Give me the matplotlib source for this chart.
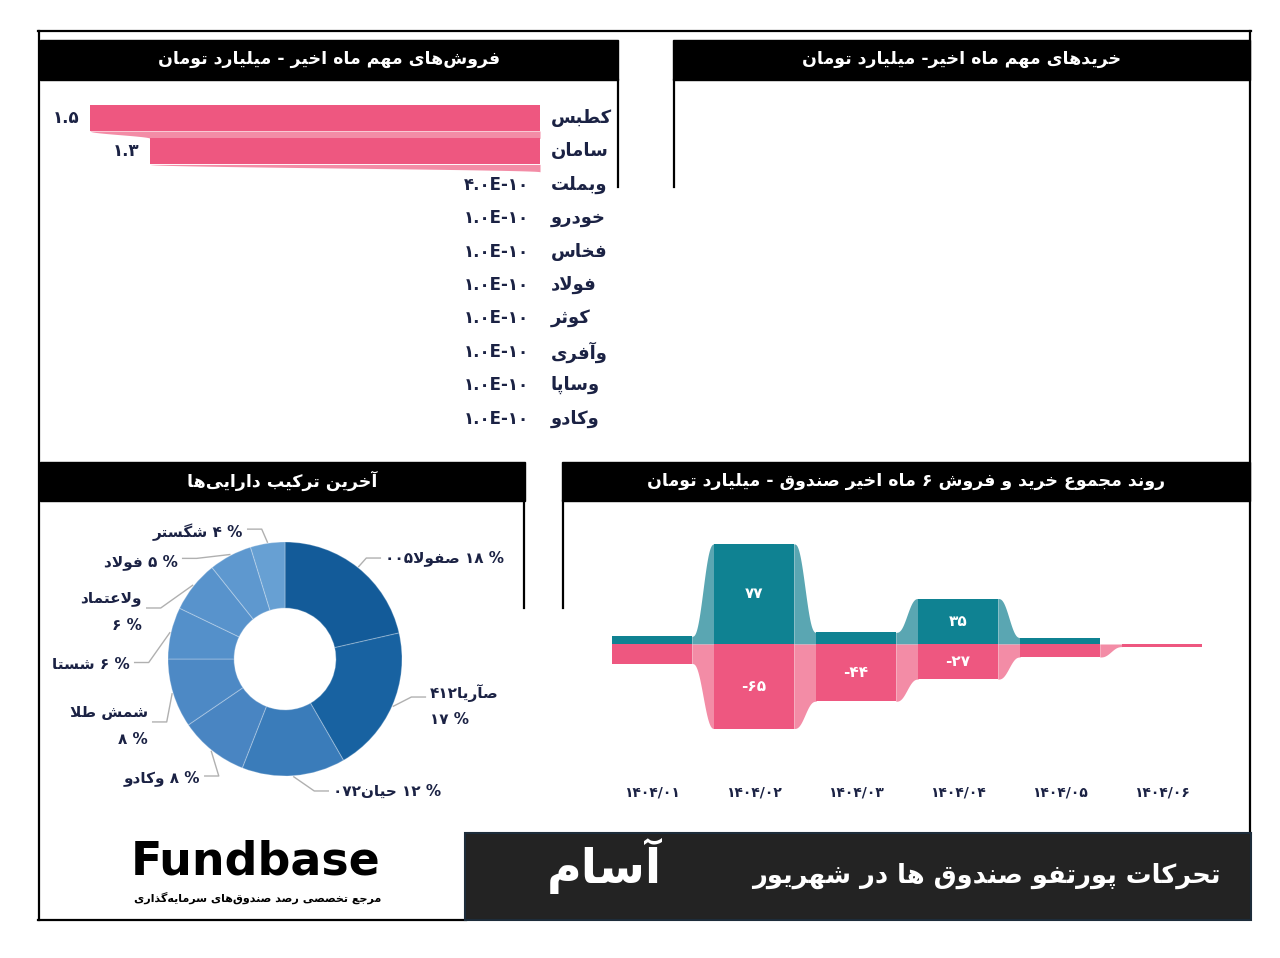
import matplotlib
matplotlib.use("Agg")
import matplotlib.pyplot as plt
from matplotlib.patches import Rectangle
import numpy as np

# ------------------------------------------------------------------ data
sell_names = ["کطبس", "سامان", "وبملت", "خودرو", "فخاس", "فولاد", "کوثر", "وآفری", "وساپا", "وکادو"]
sell_values = [1.5, 1.3, 4.0e-10, 1.0e-10, 1.0e-10, 1.0e-10, 1.0e-10, 1.0e-10, 1.0e-10, 1.0e-10]

asset_names = ["صفولا۰۰۵", "صآریا۴۱۲", "حیان۰۷۲", "وکادو", "شمش طلا", "شستا", "ولاعتماد", "فولاد", "شگستر"]
asset_pcts = [18, 17, 12, 8, 8, 6, 6, 5, 4]

months = ["۱۴۰۴/۰۱", "۱۴۰۴/۰۲", "۱۴۰۴/۰۳", "۱۴۰۴/۰۴", "۱۴۰۴/۰۵", "۱۴۰۴/۰۶"]
buy_totals = [6, 77, 9, 35, 5, 0]
sell_totals = [-15, -65, -44, -27, -10, -2]

title_sell = "فروش‌های مهم ماه اخیر - میلیارد تومان"
title_buy = "خریدهای مهم ماه اخیر- میلیارد تومان"
title_assets = "آخرین ترکیب دارایی‌ها"
title_trend = "روند مجموع خرید و فروش ۶ ماه اخیر صندوق - میلیارد تومان"
main_title = "تحرکات پورتفو صندوق ها در شهریور"
fund_name = "آسام"
logo_text = "Fundbase"
logo_sub = "مرجع تخصصی رصد صندوق‌های سرمایه‌گذاری"

# ------------------------------------------------------------------ arabic shaping helpers
def _four(base):
    return tuple(chr(base + k) for k in range(4))

FORMS = {
    'ا': ('\uFE8D', '\uFE8E'), 'آ': ('\uFE81', '\uFE82'), 'د': ('\uFEA9', '\uFEAA'),
    'ذ': ('\uFEAB', '\uFEAC'), 'ر': ('\uFEAD', '\uFEAE'), 'ز': ('\uFEAF', '\uFEB0'),
    'ژ': ('\uFB8A', '\uFB8B'), 'و': ('\uFEED', '\uFEEE'),
    'ب': _four(0xFE8F), 'پ': _four(0xFB56), 'ت': _four(0xFE95), 'ث': _four(0xFE99),
    'ج': _four(0xFE9D), 'چ': _four(0xFB7A), 'ح': _four(0xFEA1), 'خ': _four(0xFEA5),
    'س': _four(0xFEB1), 'ش': _four(0xFEB5), 'ص': _four(0xFEB9), 'ض': _four(0xFEBD),
    'ط': _four(0xFEC1), 'ظ': _four(0xFEC5), 'ع': _four(0xFEC9), 'غ': _four(0xFECD),
    'ف': _four(0xFED1), 'ق': _four(0xFED5), 'ک': _four(0xFB8E), 'گ': _four(0xFB92),
    'ل': _four(0xFEDD), 'م': _four(0xFEE1), 'ن': _four(0xFEE5), 'ه': _four(0xFEE9),
    'ی': _four(0xFBFC),
}


def _dual(c):
    return c in FORMS and len(FORMS[c]) == 4


def shape(text):
    ch = list(text)
    n = len(ch)
    res = []
    i = 0
    while i < n:
        c = ch[i]
        if c == '\u200c':
            i += 1
            continue
        if c not in FORMS:
            res.append(c)
            i += 1
            continue
        prev_j = i > 0 and _dual(ch[i - 1])
        if c == 'ل' and i + 1 < n and ch[i + 1] in ('ا', 'آ'):
            lig = ('\uFEFB', '\uFEFC') if ch[i + 1] == 'ا' else ('\uFEF5', '\uFEF6')
            res.append(lig[1] if prev_j else lig[0])
            i += 2
            continue
        next_j = i + 1 < n and ch[i + 1] in FORMS
        f = FORMS[c]
        if len(f) == 4:
            if prev_j and next_j:
                g = f[3]
            elif prev_j:
                g = f[1]
            elif next_j:
                g = f[2]
            else:
                g = f[0]
        else:
            g = f[1] if prev_j else f[0]
        res.append(g)
        i += 1
    return ''.join(res)


def _cls(c):
    o = ord(c)
    if 0x06F0 <= o <= 0x06F9 or (c.isascii() and c.isalnum()):
        return 'L'
    if (0x0600 <= o <= 0x06FF) or 0xFB50 <= o <= 0xFDFF or 0xFE70 <= o <= 0xFEFF:
        return 'R'
    return 'N'


def fa(text):
    s = shape(text)
    n = len(s)
    base = [_cls(c) for c in s]
    for k, c in enumerate(s):
        if base[k] == 'N' and c in '.,/-' and k + 1 < n and base[k + 1] == 'L' and (
                (k > 0 and base[k - 1] == 'L') or c == '-'):
            base[k] = 'L'
    cls = list(base)
    for k in range(n):
        if base[k] == 'N':
            p = next((base[j] for j in range(k - 1, -1, -1) if base[j] != 'N'), 'R')
            q = next((base[j] for j in range(k + 1, n) if base[j] != 'N'), 'R')
            cls[k] = 'L' if (p == 'L' and q == 'L') else 'R'
    runs = []
    for c, t in zip(s, cls):
        if runs and runs[-1][0] == t:
            runs[-1][1].append(c)
        else:
            runs.append([t, [c]])
    out = []
    for t, cs in reversed(runs):
        out.append(''.join(reversed(cs)) if t == 'R' else ''.join(cs))
    return ''.join(out)


FA_DIG = str.maketrans("0123456789", "۰۱۲۳۴۵۶۷۸۹")


def fnum(v):
    s = f"{v:.1E}" if abs(v) < 1e-3 else f"{v:g}"
    return s.translate(FA_DIG)


# ------------------------------------------------------------------ figure
W, H = 1280, 958
plt.rcParams['font.family'] = ['DejaVu Sans']
plt.rcParams['font.weight'] = 'bold'
fig = plt.figure(figsize=(W / 100, H / 100), dpi=100)
fig.patch.set_facecolor('white')

NAVY = '#1b2244'
PINK = '#ee5780'
PINK_L = '#f38ca6'
TEAL = '#0f8292'
TEAL_L = '#5aa6b2'


def px_axes(x0, y0, x1, y1, **kw):
    return fig.add_axes([x0 / W, 1 - y1 / H, (x1 - x0) / W, (y1 - y0) / H], **kw)


bg = px_axes(0, 0, W, H)
bg.set_xlim(0, W)
bg.set_ylim(H, 0)
bg.axis('off')

LW = 1.6
# outer frame
bg.plot([38, 1251], [31, 31], color='black', lw=LW)
bg.plot([39, 39], [31, 920], color='black', lw=LW)
bg.plot([38, 466], [920, 920], color='black', lw=LW)
bg.plot([1250, 1250], [31, 833], color='black', lw=LW)

# headers
headers = [((40, 40, 618, 80), title_sell), ((673, 40, 1250, 80), title_buy),
           ((40, 462, 525, 501), title_assets), ((562, 462, 1250, 501), title_trend)]
for (x0, y0, x1, y1), t in headers:
    bg.add_patch(Rectangle((x0, y0), x1 - x0, y1 - y0, color='black', zorder=2))
    bg.text((x0 + x1) / 2, (y0 + y1) / 2 - 1, fa(t), color='white', fontsize=12.5,
            ha='center', va='center', zorder=3)
# panel side lines
bg.plot([617.5, 617.5], [80, 187], color='black', lw=LW)
bg.plot([673.5, 673.5], [80, 187], color='black', lw=LW)
bg.plot([524, 524], [501, 608], color='black', lw=LW)
bg.plot([563, 563], [501, 608], color='black', lw=LW)

# title box
bg.add_patch(Rectangle((465, 833), 786, 87, facecolor='#232323', edgecolor='#1d2c3a', lw=1.5, zorder=2))
bg.text(1221, 876, fa(main_title), color='white', fontsize=18.5, ha='right', va='center', zorder=3)
bg.text(604, 866, fa(fund_name), color='white', fontsize=34, ha='center', va='center', zorder=3)

# logo
bg.text(256, 862, logo_text, color='black', fontsize=33, ha='center', va='center',
        fontweight='bold', family='DejaVu Sans')
bg.text(258, 898, fa(logo_sub), color='black', fontsize=8, ha='center', va='center')

# ------------------------------------------------------------------ sells bar chart
axb = px_axes(40, 95, 618, 435)
axb.axis('off')
n = len(sell_values)
ypos = np.arange(n)
axb.set_xlim(500 / 300, -78 / 300)
axb.set_ylim((435 - 118) / 33.4, (95 - 118) / 33.4)
bh = 0.78
axb.barh(ypos, sell_values, height=bh, color=PINK, zorder=2)
for i in range(n - 1):
    yy = np.linspace(i + bh / 2, i + 1 - bh / 2, 30)
    t = (yy - yy[0]) / (yy[-1] - yy[0])
    st = t * t * (3 - 2 * t)
    xx = sell_values[i] + (sell_values[i + 1] - sell_values[i]) * st
    axb.fill_betweenx(yy, 0, xx, color=PINK_L, lw=0, zorder=1)
for i, (name, v) in enumerate(zip(sell_names, sell_values)):
    axb.annotate(fa(name), xy=(0, i), xytext=(7.5, 0), textcoords='offset points',
                 ha='left', va='center', fontsize=13, color=NAVY)
    axb.annotate(fnum(v), xy=(v, i), xytext=(-8, 0), textcoords='offset points',
                 ha='right', va='center', fontsize=12, color=NAVY)

# ------------------------------------------------------------------ donut
R = 117.0
cx, cy = 285, 659
axd = px_axes(40, 505, 525, 830)
blues = ['#135b99', '#1862a1', '#3a7cba', '#4985c2', '#4d89c5', '#5490ca', '#5893cc', '#5e98cf', '#67a0d3']
wedges, _ = axd.pie(asset_pcts, colors=blues, startangle=90, counterclock=False, radius=1.0,
                    wedgeprops=dict(width=0.565, edgecolor=(1, 1, 1, 0.25), linewidth=0.8),
                    frame=True)
axd.set_xlim((40 - cx) / R, (525 - cx) / R)
axd.set_ylim(-(830 - cy) / R, (cy - 505) / R)
axd.set_aspect('auto')
axd.axis('off')

# label layout: (text x, leader y, side, lines y)
layout = [
    (0.855, 0.863, 1, [0.863]),
    (1.24, -0.325, 1, [-0.29, -0.52]),
    (0.41, -1.128, 1, [-1.128]),
    (-0.726, -1.0, -1, [-1.017]),
    (-1.171, -0.538, -1, [-0.46, -0.69]),
    (-1.325, -0.03, -1, [-0.05]),
    (-1.222, 0.436, -1, [0.521, 0.29]),
    (-0.915, 0.86, -1, [0.829]),
    (-0.359, 1.11, -1, [1.085]),
]
LFS = 11
for w, name, pct, (tx, ly, side, lys) in zip(wedges, asset_names, asset_pcts, layout):
    ang = np.deg2rad((w.theta1 + w.theta2) / 2)
    p0 = (1.01 * np.cos(ang), 1.01 * np.sin(ang))
    ex = tx - side * 0.16
    axd.plot([p0[0], ex, tx - side * 0.04], [p0[1], ly, ly], color='#b0b0b0', lw=1)
    pct_txt = fa(f"% {pct}".translate(FA_DIG))
    ha = 'left' if side > 0 else 'right'
    if len(lys) == 1:
        axd.text(tx, lys[0], fa(f"% {str(pct).translate(FA_DIG)} {name}"), ha=ha, va='center',
                 fontsize=LFS, color=NAVY)
    else:
        axd.text(tx, lys[0], fa(name), ha=ha, va='center', fontsize=LFS, color=NAVY)
        axd.text(tx, lys[1], pct_txt, ha=ha, va='center', fontsize=LFS, color=NAVY)

# ------------------------------------------------------------------ trend chart
axt = px_axes(600, 505, 1220, 770)
sp = 102.0
axt.set_xlim((600 - 652) / sp, (1220 - 652) / sp)
axt.set_ylim(-(770 - 644) / 1.3, (644 - 505) / 1.3)
for s in axt.spines.values():
    s.set_visible(False)
axt.set_yticks([])
xi = np.arange(len(months))
fw = 0.78
axt.bar(xi, buy_totals, width=fw, color=TEAL, lw=0, zorder=2)
axt.bar(xi, sell_totals, width=fw, color=PINK, lw=0, zorder=2)
for series, col in ((buy_totals, TEAL_L), (sell_totals, PINK_L)):
    for i in range(len(series) - 1):
        a, b = series[i], series[i + 1]
        if a == 0 or b == 0:
            continue
        xx = np.linspace(i + fw / 2, i + 1 - fw / 2, 40)
        t = (xx - xx[0]) / (xx[-1] - xx[0])
        st = t ** 3 * (t * (6 * t - 15) + 10)
        axt.fill_between(xx, 0, a + (b - a) * st, color=col, lw=0, zorder=1)
for i, (b, s) in enumerate(zip(buy_totals, sell_totals)):
    for v in (b, s):
        if abs(v) >= 20:
            lab = ("-" if v < 0 else "") + str(abs(v)).translate(FA_DIG)
            axt.text(i, v / 2, lab, ha='center', va='center', color='white', fontsize=11)
axt.set_xticks(xi)
axt.set_xticklabels(months, fontsize=10, color=NAVY)
axt.tick_params(axis='x', length=0, pad=11)
axt.patch.set_alpha(0)

fig.savefig('out.png', dpi=100)
